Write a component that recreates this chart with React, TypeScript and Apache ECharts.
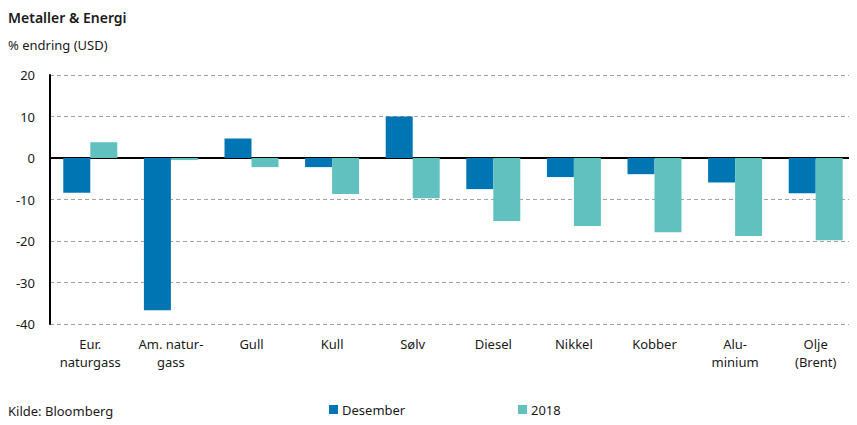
import React, { useEffect, useRef } from "react";
import * as echarts from "echarts";

const categories = ["Eur.\nnaturgass", "Am. natur-\ngass", "Gull", "Kull", "Sølv", "Diesel", "Nikkel", "Kobber", "Alu-\nminium", "Olje\n(Brent)"];
const desember = [-8.4, -36.7, 4.7, -2.2, 10.0, -7.5, -4.6, -3.9, -5.9, -8.5];
const aar2018 = [3.8, -0.5, -2.2, -8.7, -9.7, -15.2, -16.4, -17.9, -18.8, -19.8];
const yMin = -40;
const yMax = 20;
const yInterval = 10;

const FONT = "'Noto Sans', sans-serif";

export default function App() {
  const ref = useRef<HTMLDivElement>(null);
  useEffect(() => {
    if (!ref.current) return;
    const chart = echarts.init(ref.current, null, { renderer: "svg" });
    chart.setOption({
      animation: false,
      textStyle: { fontFamily: FONT, color: "#1a1a1a" },
      title: [
        { text: "Metaller & Energi", left: 0, top: 2, padding: 0, textStyle: { fontSize: 14, fontWeight: 600, color: "#1a1a1a", fontFamily: FONT } },
        { text: "% endring (USD)", left: 0, top: 30, padding: 0, textStyle: { fontSize: 13, fontWeight: "normal", color: "#1a1a1a", fontFamily: FONT } },
        { text: "Kilde: Bloomberg", left: 0, top: 396, padding: 0, textStyle: { fontSize: 13, fontWeight: "normal", color: "#1a1a1a", fontFamily: FONT } },
      ],
      legend: [
        { data: ["Desember"], left: 321, top: 395, padding: 0, itemWidth: 9, itemHeight: 9, itemGap: 4, icon: "rect", textStyle: { fontSize: 13, color: "#1a1a1a", fontFamily: FONT, padding: [0, 0, 0, -1] } },
        { data: ["2018"], left: 510, top: 395, padding: 0, itemWidth: 9, itemHeight: 9, itemGap: 4, icon: "rect", textStyle: { fontSize: 13, color: "#1a1a1a", fontFamily: FONT, padding: [0, 0, 0, -1] } },
      ],
      grid: { left: 42, right: 1, top: 67, bottom: 101, containLabel: false },
      xAxis: {
        type: "category",
        data: categories,
        axisLine: { onZero: true, lineStyle: { color: "#000", width: 2 } },
        axisTick: { show: false },
        axisLabel: { fontSize: 13, color: "#1a1a1a", fontFamily: FONT, interval: 0, lineHeight: 18, margin: 11 },
        position: "bottom",
      },
      yAxis: {
        type: "value",
        min: yMin,
        max: yMax,
        interval: yInterval,
        axisLine: { show: true, lineStyle: { color: "#000", width: 2 } },
        axisTick: { show: false },
        axisLabel: { fontSize: 13, color: "#1a1a1a", fontFamily: FONT, margin: 15 },
        splitLine: { show: true, lineStyle: { color: "#a8a09c", type: [4, 3], width: 1 } },
      },
      series: [
        { name: "Desember", type: "bar", data: desember, barWidth: 27, barGap: "0%", itemStyle: { color: "#0075B4" } },
        { name: "2018", type: "bar", data: aar2018, barWidth: 27, barGap: "0%", itemStyle: { color: "#61C1BF" } },
      ],
    });
    return () => chart.dispose();
  }, []);
  return <div ref={ref} style={{ width: 849, height: 417 }} />;
}
